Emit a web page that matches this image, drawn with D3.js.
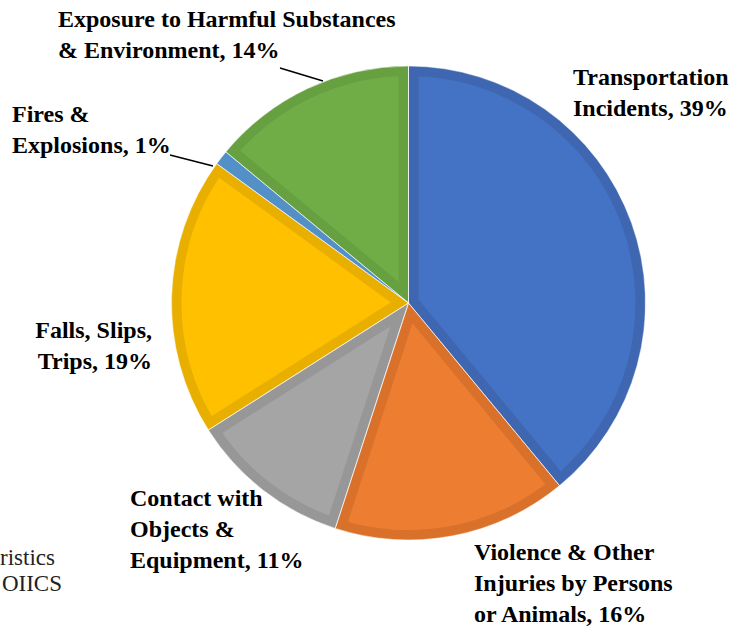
<!DOCTYPE html>
<html><head><meta charset="utf-8">
<script src="https://cdn.jsdelivr.net/npm/d3@7"></script>
<style>body{margin:0;background:#fff}svg{display:block}</style>
</head><body>
<svg id="c" width="734" height="629"></svg>
<script>
const categories = ["Transportation Incidents","Violence & Other Injuries by Persons or Animals","Contact with Objects & Equipment","Falls, Slips, Trips","Fires & Explosions","Exposure to Harmful Substances & Environment"];
const values = [39,16,11,19,1,14];
const fills = ["#4472C4","#ED7D31","#A5A5A5","#FFC000","#5B9BD5","#70AD47"];
const borders = ["#3F66B0","#D9712B","#979797","#E8AF00","#5490C8","#66A041"];
const labelLines = [
  ["Transportation","Incidents, 39%"],
  ["Violence & Other","Injuries by Persons","or Animals, 16%"],
  ["Contact with","Objects &","Equipment, 11%"],
  ["Falls, Slips,","Trips, 19%"],
  ["Fires &","Explosions, 1%"],
  ["Exposure to Harmful Substances","& Environment, 14%"]
];
const sourceLines = ["ristics","OIICS"];
const labelPos = [[573,85,"start"],[474,560,"start"],[130,506,"start"],[152,338,"end"],[12,122,"start"],[58,27,"start"]];
const leaders = [null,null,null,null,[[170,155],[213,166]],[[280,68],[323,81]]];

const svg = d3.select("#c");
const cx = 408.5, cy = 303, r = 237;
const pie = d3.pie().sort(null).value(d=>d);
const arc = d3.arc().innerRadius(0).outerRadius(r);
const arcs = pie(values);
const defs = svg.append("defs");
const g = svg.append("g").attr("transform",`translate(${cx},${cy})`);
arcs.forEach((a,i)=>{
  defs.append("clipPath").attr("id","cp"+i).append("path").attr("d",arc(a));
  g.append("path").attr("d",arc(a)).attr("fill",fills[i])
    .attr("stroke",borders[i]).attr("stroke-width",20).attr("clip-path",`url(#cp${i})`);
});
arcs.forEach((a,i)=>{
  g.append("path").attr("d",arc(a)).attr("fill","none").attr("stroke","#fff").attr("stroke-width",0.8).attr("stroke-opacity",0.7);
});
leaders.forEach(l=>{ if(l) svg.append("line").attr("x1",l[0][0]).attr("y1",l[0][1]).attr("x2",l[1][0]).attr("y2",l[1][1]).attr("stroke","#000").attr("stroke-width",1.5); });
labelLines.forEach((lines,i)=>{
  const [x,y,anc]=labelPos[i];
  const t = svg.append("text").attr("x",x).attr("y",y).attr("text-anchor",anc)
    .attr("font-family","'Liberation Serif','Times New Roman',serif").attr("font-weight","bold").attr("font-size",24).attr("fill","#000");
  lines.forEach((s,k)=>t.append("tspan").attr("x",x).attr("dy",k?31:0).text(s));
});
const src = svg.append("text").attr("font-family","'Liberation Serif','Times New Roman',serif").attr("font-size",23).attr("fill","#222").attr("text-anchor","end");
src.append("tspan").attr("x",55).attr("y",565).text(sourceLines[0]);
src.append("tspan").attr("x",62).attr("y",591).text(sourceLines[1]);
</script>
</body></html>
